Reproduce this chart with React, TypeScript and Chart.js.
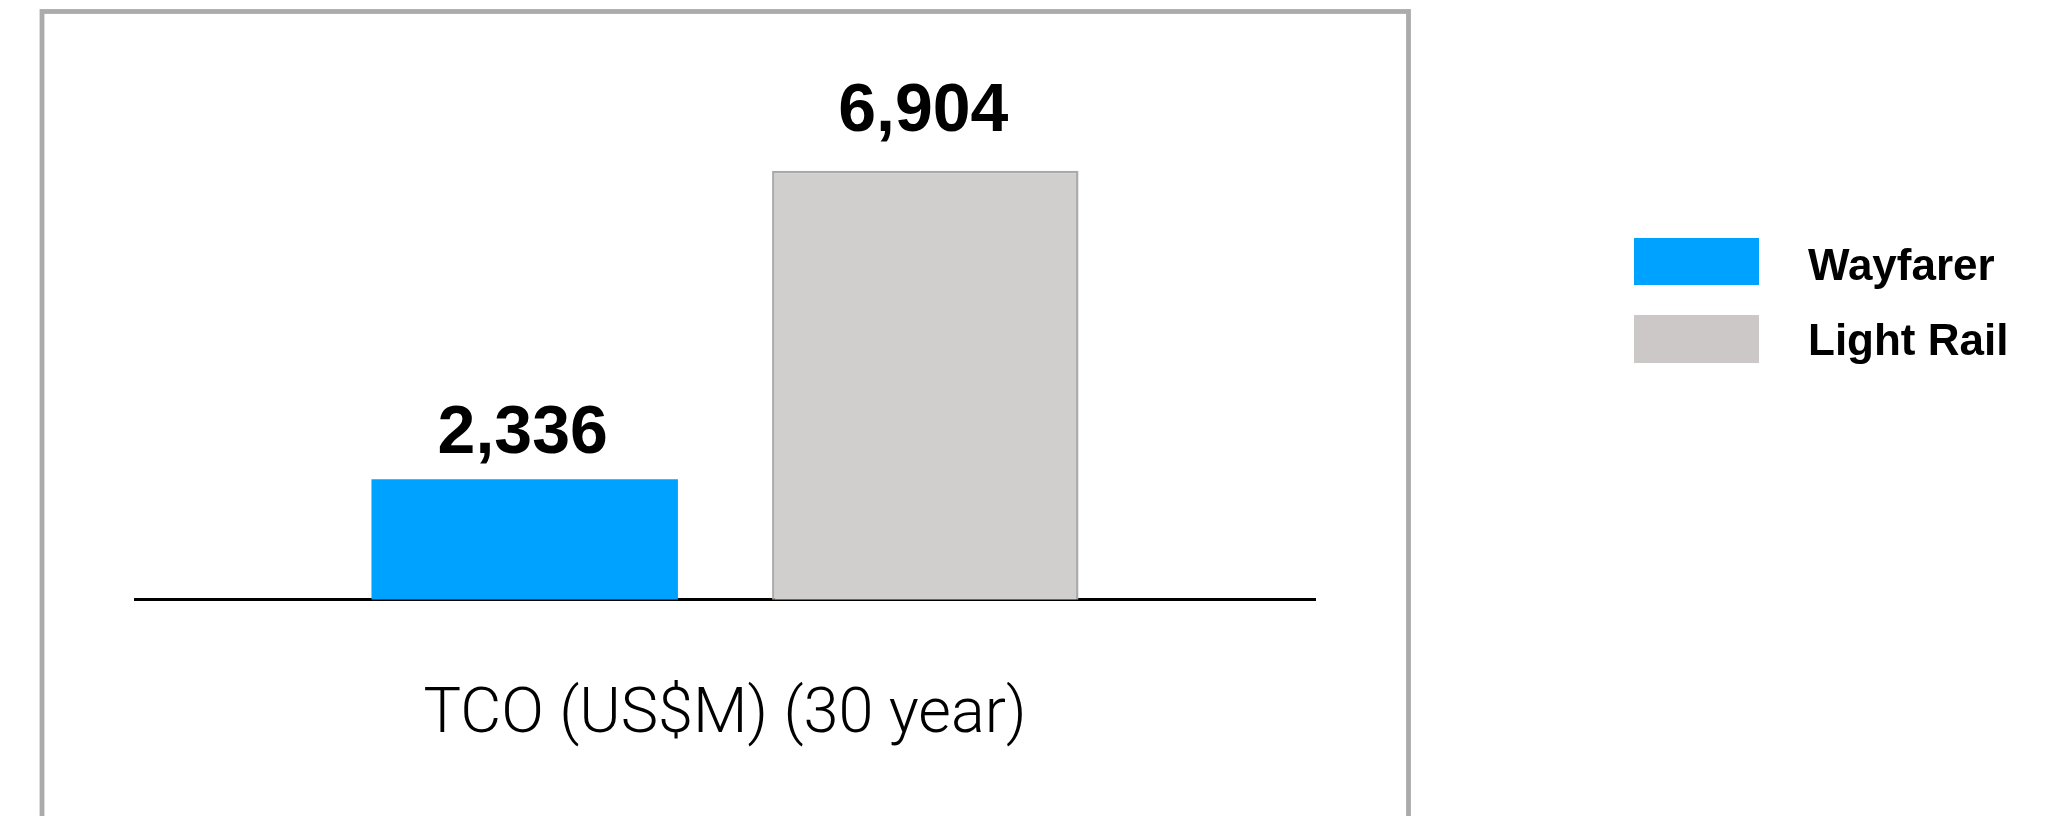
import React, { useEffect, useRef } from "react";
import { Chart, registerables } from "chart.js";

Chart.register(...registerables);

const categories = ["TCO (US$M) (30 year)"];
const seriesNames = ["Wayfarer", "Light Rail"];
const wayfarerValues = [2336];
const lightRailValues = [6904];

const W = 2049;
const H = 816;
const CH = 833;

const framePlugin = {
  id: "frame",
  beforeDraw(chart: any) {
    const ctx = chart.ctx;
    ctx.save();
    ctx.fillStyle = "#ffffff";
    ctx.fillRect(0, 0, W, CH);
    ctx.strokeStyle = "#ababab";
    ctx.lineWidth = 4.8;
    ctx.strokeRect(42, 11.5, 1408.5 - 42, 860);
    ctx.restore();
  },
};

const valueLabelPlugin = {
  id: "valueLabels",
  afterDatasetsDraw(chart: any) {
    const ctx = chart.ctx;
    ctx.save();
    ctx.fillStyle = "#000000";
    ctx.font = "bold 68px 'Liberation Sans', Arial, sans-serif";
    ctx.textAlign = "center";
    ctx.textBaseline = "alphabetic";
    chart.data.datasets.forEach((ds: any, i: number) => {
      const meta = chart.getDatasetMeta(i);
      meta.data.forEach((bar: any, j: number) => {
        const v = ds.data[j];
        ctx.fillText(Number(v).toLocaleString("en-US"), bar.x - 2, bar.y - (ds.labelGap || 30));
      });
    });
    ctx.restore();
  },
};

const legendPlugin = {
  id: "customLegend",
  afterDraw(chart: any) {
    const ctx = chart.ctx;
    ctx.save();
    ctx.font = "bold 44px 'Liberation Sans', Arial, sans-serif";
    ctx.textAlign = "left";
    ctx.textBaseline = "alphabetic";
    chart.data.datasets.forEach((ds: any, i: number) => {
      const top = 238 + i * 77;
      ctx.fillStyle = ds.legendColor || ds.backgroundColor;
      ctx.fillRect(1634, top, 125, 47 + i);
      ctx.fillStyle = "#000000";
      ctx.fillText(ds.label, 1808, top + 42 + i * -2);
    });
    ctx.restore();
  },
};

export default function App() {
  const ref = useRef<HTMLCanvasElement | null>(null);
  useEffect(() => {
    if (!ref.current) return;
    const chart = new Chart(ref.current, {
      type: "bar",
      data: {
        labels: categories,
        datasets: [
          {
            label: seriesNames[0],
            data: wayfarerValues,
            backgroundColor: "#00a2ff",
            borderWidth: 0,
            labelGap: 26,
          } as any,
          {
            label: seriesNames[1],
            data: lightRailValues,
            backgroundColor: "#d0cfcd",
            borderColor: "#aaaaaa",
            borderWidth: 2.5,
            borderSkipped: false,
            labelGap: 40,
            legendColor: "#cbc8c7",
          } as any,
        ],
      },
      options: {
        responsive: false,
        animation: false,
        devicePixelRatio: 1,
        layout: { padding: { left: 135, right: W - 1315, top: 29, bottom: 0 } },
        plugins: {
          legend: { display: false },
          tooltip: { enabled: false },
          title: { display: false },
        },
        datasets: {
          bar: { categoryPercentage: 0.679, barPercentage: 0.765 },
        },
        scales: {
          x: {
            grid: { display: false, drawTicks: false },
            border: { display: true, color: "#000000", width: 3 },
            ticks: {
              color: "#000000",
              padding: 79,
              font: { family: "Roboto, 'Liberation Sans', sans-serif", size: 63, weight: "300" as any },
            },
          },
          y: {
            display: false,
            min: 560,
            max: 9000,
          },
        },
      },
      plugins: [framePlugin, valueLabelPlugin, legendPlugin],
    });
    return () => chart.destroy();
  }, []);
  return (
    <div style={{ position: "absolute", left: 0, top: 0, width: W, height: H, overflow: "hidden" }}>
      <canvas ref={ref} width={W} height={CH} style={{ display: "block", width: W, height: CH }} />
    </div>
  );
}
